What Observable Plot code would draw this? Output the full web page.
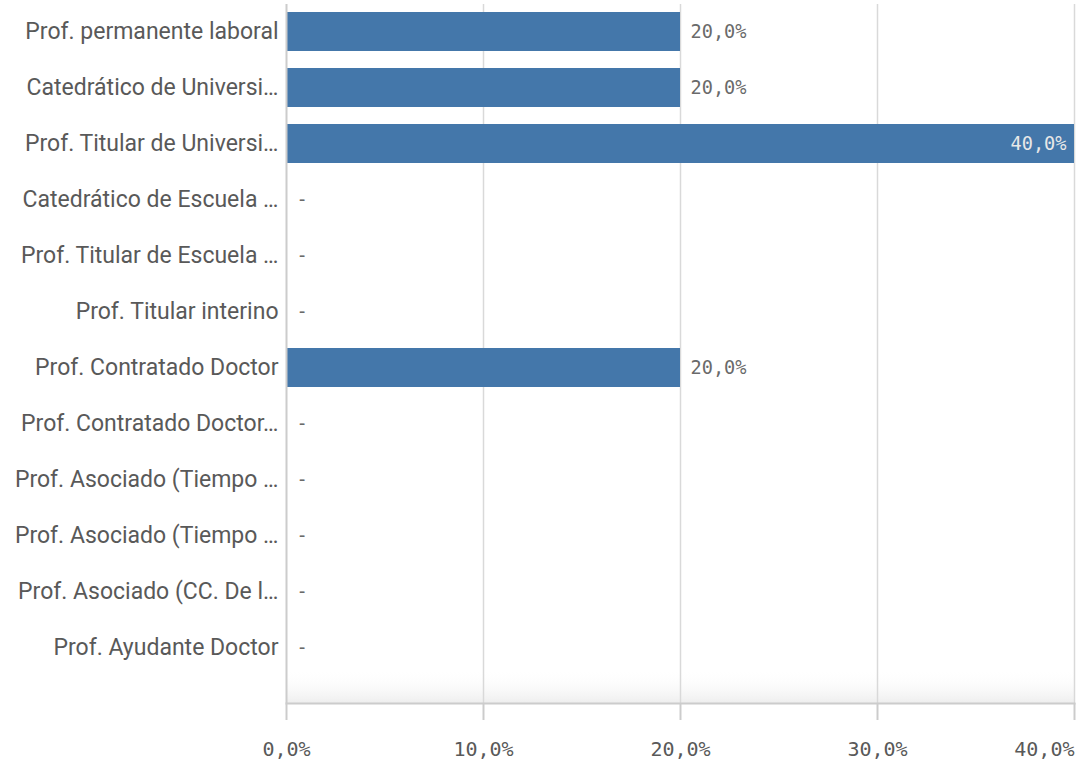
<!DOCTYPE html>
<html><head><meta charset="utf-8">
<script src="https://cdn.jsdelivr.net/npm/d3@7"></script>
<script src="https://cdn.jsdelivr.net/npm/@observablehq/plot@0.6"></script>
<style>body{margin:0;background:#fff;}</style>
</head><body><div id="chart"></div>
<script>
const categories = [
  "Prof. permanente laboral",
  "Catedrático de Universi…",
  "Prof. Titular de Universi…",
  "Catedrático de Escuela …",
  "Prof. Titular de Escuela …",
  "Prof. Titular interino",
  "Prof. Contratado Doctor",
  "Prof. Contratado Doctor…",
  "Prof. Asociado (Tiempo …",
  "Prof. Asociado (Tiempo …",
  "Prof. Asociado (CC. De l…",
  "Prof. Ayudante Doctor"
];
const values = [0.2, 0.2, 0.4, 0, 0, 0, 0.2, 0, 0, 0, 0, 0];
const xTicks = [0, 0.1, 0.2, 0.3, 0.4];

// categories with duplicated display text need unique keys
const data = categories.map((c, i) => ({key: i, label: c, value: values[i]}));
const pct = v => d3.format(".1f")(v * 100).replace(".", ",") + "%";
const fmt = v => v === 0 ? "-" : pct(v);
const mono = "'DejaVu Sans Mono', monospace";
const sans = "Roboto, sans-serif";
const maxV = d3.max(values);

// subtle fade at the bottom of the plotting area
function bottomFade(index, scales, values, dims) {
  const ns = "http://www.w3.org/2000/svg";
  const g = document.createElementNS(ns, "g");
  const defs = document.createElementNS(ns, "defs");
  defs.innerHTML = '<linearGradient id="fade" x1="0" y1="0" x2="0" y2="1">' +
    '<stop offset="0" stop-color="#ffffff" stop-opacity="0"/>' +
    '<stop offset="1" stop-color="#eeeeee" stop-opacity="1"/></linearGradient>';
  g.appendChild(defs);
  const [x0, x1] = scales.x.range ? [dims.marginLeft, dims.width - dims.marginRight] : [0, 0];
  const yb = dims.height - dims.marginBottom;
  const r = document.createElementNS(ns, "rect");
  r.setAttribute("x", x0);
  r.setAttribute("width", x1 - x0);
  r.setAttribute("y", yb - 34);
  r.setAttribute("height", 34);
  r.setAttribute("fill", "url(#fade)");
  g.appendChild(r);
  return g;
}

const chart = Plot.plot({
  width: 1079, height: 766,
  marginLeft: 286, marginRight: 5, marginTop: 4, marginBottom: 63,
  style: {fontFamily: sans, background: "#fff"},
  x: {domain: [0, 0.4], axis: null, label: null},
  y: {domain: data.map(d => d.key), range: [4, 676], paddingInner: 0.3, paddingOuter: 0.15, axis: null, label: null},
  marks: [
    bottomFade,
    Plot.ruleX(xTicks.slice(1), {stroke: "#d9d9d9", strokeWidth: 1.5}),
    Plot.barX(data, {x: "value", y: "key", fill: "#4477aa"}),
    Plot.ruleX([0], {stroke: "#cccccc", strokeWidth: 2}),
    Plot.frame({anchor: "bottom", stroke: "#cccccc", strokeWidth: 2}),
    Plot.axisY({tickSize: 0, tickPadding: 8, fontSize: 23, color: "#595959", label: null,
      tickFormat: k => categories[k]}),
    Plot.text(data.filter(d => d.value < maxV), {x: "value", y: "key", text: d => fmt(d.value),
      dx: 10, textAnchor: "start", fontFamily: mono, fontSize: 18.6, fill: "#6a6a6a"}),
    Plot.text(data.filter(d => d.value >= maxV), {x: "value", y: "key", text: d => fmt(d.value),
      dx: -8, textAnchor: "end", fontFamily: mono, fontSize: 18.6, fill: "#e8e8e8"}),
    Plot.axisX(xTicks, {text: null, tickSize: 17, stroke: "#cccccc", strokeWidth: 2, label: null}),
    Plot.axisX(xTicks.slice(0, -1), {tickSize: 0, tickPadding: 38, fontFamily: mono, fontSize: 20,
      color: "#595959", tickFormat: pct, label: null}),
    Plot.axisX(xTicks.slice(-1), {tickSize: 0, tickPadding: 38, fontFamily: mono, fontSize: 20,
      color: "#595959", tickFormat: pct, textAnchor: "end", label: null})
  ]
});
document.getElementById("chart").appendChild(chart);
</script>
</body></html>
